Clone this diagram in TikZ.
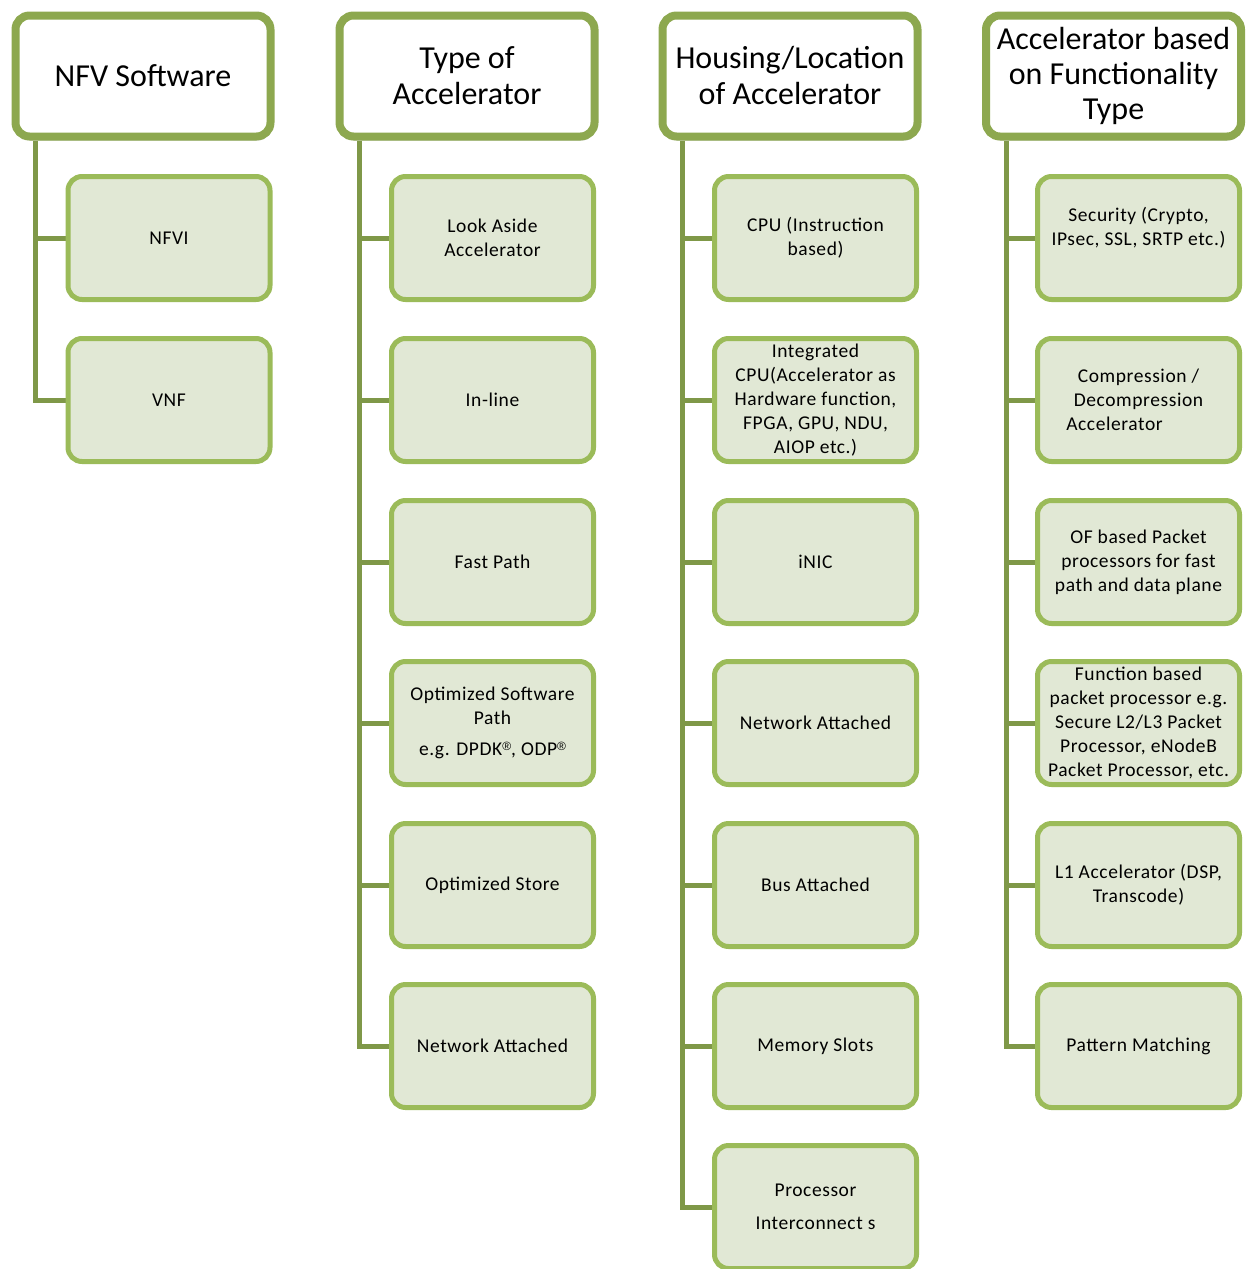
\documentclass[tikz,border=0pt]{standalone}
\usepackage{fontspec}
\setmainfont{Carlito}
\newfontfamily\chfont[LetterSpace=3]{Carlito}
\newfontfamily\regfont{Liberation Sans}
\usetikzlibrary{shadows,backgrounds,calc}
\definecolor{hdrborder}{HTML}{8DA84F}
\definecolor{chborder}{HTML}{9BBB59}
\definecolor{chfill}{HTML}{E1E8D5}
\definecolor{connclr}{HTML}{7F9848}
\newcommand{\regmark}{\raisebox{5.5pt}{\regfont\fontsize{12}{12}\selectfont ®}}
\tikzset{
  hdr/.style={draw=hdrborder, line width=8pt, fill=white, rounded corners=14pt,
    minimum width=255pt, minimum height=121pt, align=center, inner sep=2pt,
    font=\fontsize{32}{36}\selectfont,
    drop shadow={shadow xshift=1pt, shadow yshift=-4pt, opacity=0.3, fill=black!60}},
  child/.style={draw=chborder, line width=5pt, fill=chfill, rounded corners=14pt,
    minimum width=202pt, minimum height=123pt, align=center, inner sep=1pt,
    font=\chfont\fontsize{19.5}{24}\selectfont},
  conn/.style={draw=connclr, line width=5pt}
}
\begin{document}
\begin{tikzpicture}[x=1pt,y=-1pt]
\useasboundingbox (0,0) rectangle (1246,1269);
% headers
\node[hdr] (h1) at (143,76) {NFV Software};
\node[hdr] (h2) at (467,76) {Type of\\Accelerator};
\node[hdr] (h3) at (790,76) {Housing/Location\\of Accelerator};
\node[hdr,font=\fontsize{32}{35}\selectfont] (h4) at (1113.5,76) {Accelerator based\\on Functionality\\Type};
% column 1
\node[child] (a1) at (169,238) {NFVI};
\node[child] (a2) at (169,400) {VNF};
% column 2
\node[child] (b1) at (492.5,238) {Look Aside\\Accelerator};
\node[child] (b2) at (492.5,400) {In-line};
\node[child] (b3) at (492.5,562) {Fast Path};
\node[child] (b4) at (492.5,723) {Optimized Software\\Path\\[7pt]e.g. DPDK\regmark, ODP\regmark};
\node[child] (b5) at (492.5,885) {Optimized Store};
\node[child] (b6) at (492.5,1046) {Network Attached};
% column 3
\node[child] (c1) at (815.5,238) {CPU (Instruction\\based)};
\node[child] (c2) at (815.5,400) {Integrated\\CPU(Accelerator as\\Hardware function,\\FPGA, GPU, NDU,\\AIOP etc.)};
\node[child] (c3) at (815.5,562) {iNIC};
\node[child] (c4) at (815.5,723) {Network Attached};
\node[child] (c5) at (815.5,885) {Bus Attached};
\node[child] (c6) at (815.5,1046) {Memory Slots};
\node[child] (c7) at (815.5,1207) {Processor\\[9pt]Interconnect s};
% column 4
\node[child] (d1) at (1138.5,238) {Security (Crypto,\\IPsec, SSL, SRTP etc.)\\\mbox{}};
\node[child] (d2) at (1138.5,400) {Compression /\\Decompression\\Accelerator\hspace*{48pt}};
\node[child] (d3) at (1138.5,562) {OF based Packet\\processors for fast\\path and data plane};
\node[child] (d4) at (1138.5,723) {Function based\\packet processor e.g.\\Secure L2/L3 Packet\\Processor, eNodeB\\Packet Processor, etc.};
\node[child] (d5) at (1138.5,885) {L1 Accelerator (DSP,\\Transcode)};
\node[child] (d6) at (1138.5,1046) {Pattern Matching};
% trunks
\coordinate (t1) at ($(h1.south west)+(24,0)$);
\coordinate (t2) at ($(h2.south west)+(24,0)$);
\coordinate (t3) at ($(h3.south west)+(24,0)$);
\coordinate (t4) at ($(h4.south west)+(24,0)$);
\begin{pgfonlayer}{background}
\draw[conn] (t1) |- (a2.west);
\draw[conn] (t1 |- a1.west) -- (a1.west);
\draw[conn] (t2) |- (b6.west);
\foreach \n in {b1,b2,b3,b4,b5} \draw[conn] (t2 |- \n.west) -- (\n.west);
\draw[conn] (t3) |- (c7.west);
\foreach \n in {c1,c2,c3,c4,c5,c6} \draw[conn] (t3 |- \n.west) -- (\n.west);
\draw[conn] (t4) |- (d6.west);
\foreach \n in {d1,d2,d3,d4,d5} \draw[conn] (t4 |- \n.west) -- (\n.west);
\end{pgfonlayer}
\end{tikzpicture}
\end{document}
